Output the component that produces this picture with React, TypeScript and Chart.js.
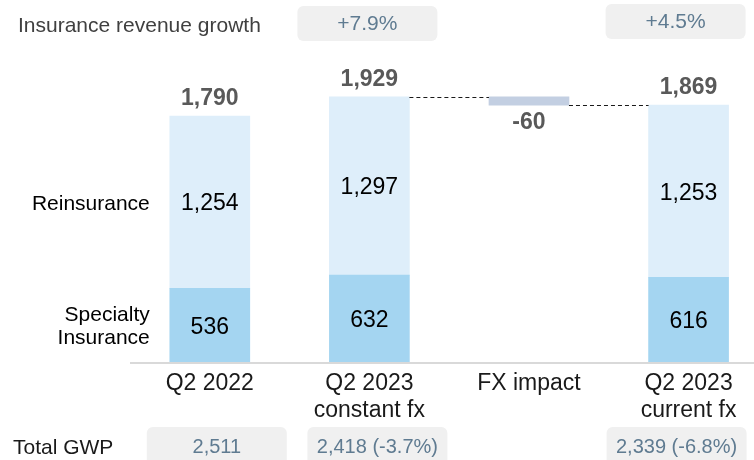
import React, { useEffect, useRef } from "react";
import { Chart, registerables } from "chart.js";

Chart.register(...registerables);

// ---- data ----
const categories: string[][] = [
  ["Q2 2022"],
  ["Q2 2023", "constant fx"],
  ["FX impact"],
  ["Q2 2023", "current fx"],
];
const specialtyInsurance: (number | null)[] = [536, 632, null, 616];
const reinsurance: (number | null)[] = [1254, 1297, null, 1253];
const totals: (number | null)[] = [1790, 1929, null, 1869];
const fxImpact: (number | null)[] = [null, null, -60, null];
const revenueGrowth: (string | null)[] = [null, "+7.9%", null, "+4.5%"];
const totalGWP: (string | null)[] = ["2,511", "2,418 (-3.7%)", null, "2,339 (-6.8%)"];
const seriesNames = { reinsurance: "Reinsurance", specialty: ["Specialty", "Insurance"] };
const growthTitle = "Insurance revenue growth";
const gwpTitle = "Total GWP";

// ---- layout / style constants ----
const FONT = "'Liberation Sans', Arial, Helvetica, sans-serif";
const COL_SPEC = "#a4d5f1";
const COL_RE = "#deeefa";
const COL_FX = "#c3cfe2";
const BOX_FILL = "#f0f0f0";
const BOX_TEXT = "#5f7b91";
const growthBoxOffset = [0, -2, 0, -13];
const gwpBoxOffset = [7, 8, 0, -12];
const BOX_W = 140;

function fmt(v: number) {
  return v.toLocaleString("en-US");
}

const annotPlugin = {
  id: "annot",
  afterDatasetsDraw(chart: any) {
    const { ctx, chartArea } = chart;
    const xs = chart.scales.x;
    const ys = chart.scales.y;
    const half = 40;
    ctx.save();

    // axis line
    ctx.strokeStyle = "#d9d9d9";
    ctx.lineWidth = 2;
    ctx.beginPath();
    ctx.moveTo(chartArea.left, chartArea.bottom + 1);
    ctx.lineTo(chartArea.right, chartArea.bottom + 1);
    ctx.stroke();

    ctx.textAlign = "center";
    ctx.textBaseline = "middle";

    // values inside segments & totals
    categories.forEach((_, i) => {
      const cx = xs.getPixelForValue(i);
      const s = specialtyInsurance[i];
      const r = reinsurance[i];
      if (s != null && r != null) {
        const y0 = ys.getPixelForValue(0);
        const y1 = ys.getPixelForValue(s);
        const y2 = ys.getPixelForValue(s + r);
        ctx.fillStyle = "#000";
        ctx.font = `23px ${FONT}`;
        ctx.fillText(fmt(s), cx, (y0 + y1) / 2 + 2);
        ctx.fillText(fmt(r), cx, (y1 + y2) / 2 + 2);
      }
      const t = totals[i];
      if (t != null) {
        ctx.fillStyle = "#595959";
        ctx.font = `bold 23px ${FONT}`;
        ctx.fillText(fmt(t), cx, ys.getPixelForValue(t) - 17);
      }
      const f = fxImpact[i];
      if (f != null) {
        const prev = totals[i - 1] as number;
        const bottom = ys.getPixelForValue(Math.min(prev, prev + f));
        ctx.fillStyle = "#595959";
        ctx.font = `bold 23px ${FONT}`;
        ctx.fillText(String(f), cx, bottom + 18);

        // connectors
        ctx.strokeStyle = "#1a1a1a";
        ctx.lineWidth = 1;
        ctx.setLineDash([4, 3]);
        const yA = Math.round(ys.getPixelForValue(prev)) + 0.5;
        const yB = Math.round(ys.getPixelForValue(prev + f)) + 0.5;
        const px = xs.getPixelForValue(i - 1);
        const nx = xs.getPixelForValue(i + 1);
        ctx.beginPath();
        ctx.moveTo(px + half, yA);
        ctx.lineTo(cx - half, yA);
        ctx.moveTo(cx + half, yB);
        ctx.lineTo(nx - half, yB);
        ctx.stroke();
        ctx.setLineDash([]);
      }
    });

    // series labels at left of first bar
    {
      const x0 = xs.getPixelForValue(0) - half - 20;
      const s = specialtyInsurance[0] as number;
      const r = reinsurance[0] as number;
      const y0 = ys.getPixelForValue(0);
      const y1 = ys.getPixelForValue(s);
      const y2 = ys.getPixelForValue(s + r);
      ctx.textAlign = "right";
      ctx.fillStyle = "#000";
      ctx.font = `21px ${FONT}`;
      ctx.fillText(seriesNames.reinsurance, x0, (y1 + y2) / 2 + 2);
      const mid = (y0 + y1) / 2;
      ctx.fillText(seriesNames.specialty[0], x0, mid - 10);
      ctx.fillText(seriesNames.specialty[1], x0, mid + 13);
    }

    // category labels
    ctx.textAlign = "center";
    ctx.fillStyle = "#1a1a1a";
    ctx.font = `23px ${FONT}`;
    categories.forEach((lines, i) => {
      const cx = xs.getPixelForValue(i);
      lines.forEach((ln, k) => {
        ctx.fillText(ln, cx, chartArea.bottom + 22 + k * 27);
      });
    });

    // top row: revenue growth
    ctx.textAlign = "left";
    ctx.fillStyle = "#404040";
    ctx.font = `21px ${FONT}`;
    ctx.fillText(growthTitle, 18, 26);
    revenueGrowth.forEach((g, i) => {
      if (g == null) return;
      const cx = xs.getPixelForValue(i) + growthBoxOffset[i];
      const top = i === 1 ? 6 : 4;
      ctx.fillStyle = BOX_FILL;
      ctx.beginPath();
      ctx.roundRect(cx - BOX_W / 2, top, BOX_W, 35, 6);
      ctx.fill();
      ctx.fillStyle = BOX_TEXT;
      ctx.textAlign = "center";
      ctx.font = `21px ${FONT}`;
      ctx.fillText(g, cx, top + 18);
    });

    // bottom row: total GWP
    ctx.textAlign = "left";
    ctx.fillStyle = "#1a1a1a";
    ctx.font = `21px ${FONT}`;
    ctx.fillText(gwpTitle, 13, 448);
    totalGWP.forEach((g, i) => {
      if (g == null) return;
      const cx = xs.getPixelForValue(i) + gwpBoxOffset[i];
      ctx.fillStyle = BOX_FILL;
      ctx.beginPath();
      ctx.roundRect(cx - BOX_W / 2, 427, BOX_W, 45, 6);
      ctx.fill();
      ctx.fillStyle = BOX_TEXT;
      ctx.textAlign = "center";
      ctx.font = `20px ${FONT}`;
      ctx.fillText(g, cx, 447);
    });

    ctx.restore();
  },
};

export default function App() {
  const ref = useRef<HTMLCanvasElement | null>(null);
  useEffect(() => {
    document.body.style.margin = "0";
    const canvas = ref.current!;
    const pts = (arr: (number | null)[]) =>
      arr.map((v, i) => (v == null ? null : { x: i, y: v })).filter(Boolean);
    const fxData = fxImpact
      .map((f, i) => {
        if (f == null) return null;
        const prev = totals[i - 1] as number;
        return { x: i, y: [prev + f, prev] };
      })
      .filter(Boolean);

    const chart = new Chart(canvas, {
      type: "bar",
      data: {
        datasets: [
          { label: "Specialty Insurance", data: pts(specialtyInsurance) as any, backgroundColor: COL_SPEC, borderWidth: 0 },
          { label: "Reinsurance", data: pts(reinsurance) as any, backgroundColor: COL_RE, borderWidth: 0 },
          { label: "FX impact", data: fxData as any, backgroundColor: COL_FX, borderWidth: 0 },
        ],
      },
      options: {
        responsive: false,
        animation: false,
        events: [],
        barThickness: 80,
        layout: { padding: { left: 130, right: 0, top: 50, bottom: 98 } },
        plugins: { legend: { display: false }, tooltip: { enabled: false } },
        scales: {
          x: {
            type: "linear",
            min: -0.5,
            max: 3.41,
            offset: false,
            stacked: true,
            display: false,
            grid: { display: false },
          },
          y: {
            min: 0,
            max: 2270,
            stacked: true,
            display: false,
            grid: { display: false },
          },
        },
      } as any,
      plugins: [annotPlugin],
    });
    return () => chart.destroy();
  }, []);

  return (
    <div style={{ position: "fixed", left: 0, top: 0, width: 754, height: 460, background: "#fff" }}>
      <canvas ref={ref} width={754} height={460} style={{ display: "block" }} />
    </div>
  );
}
